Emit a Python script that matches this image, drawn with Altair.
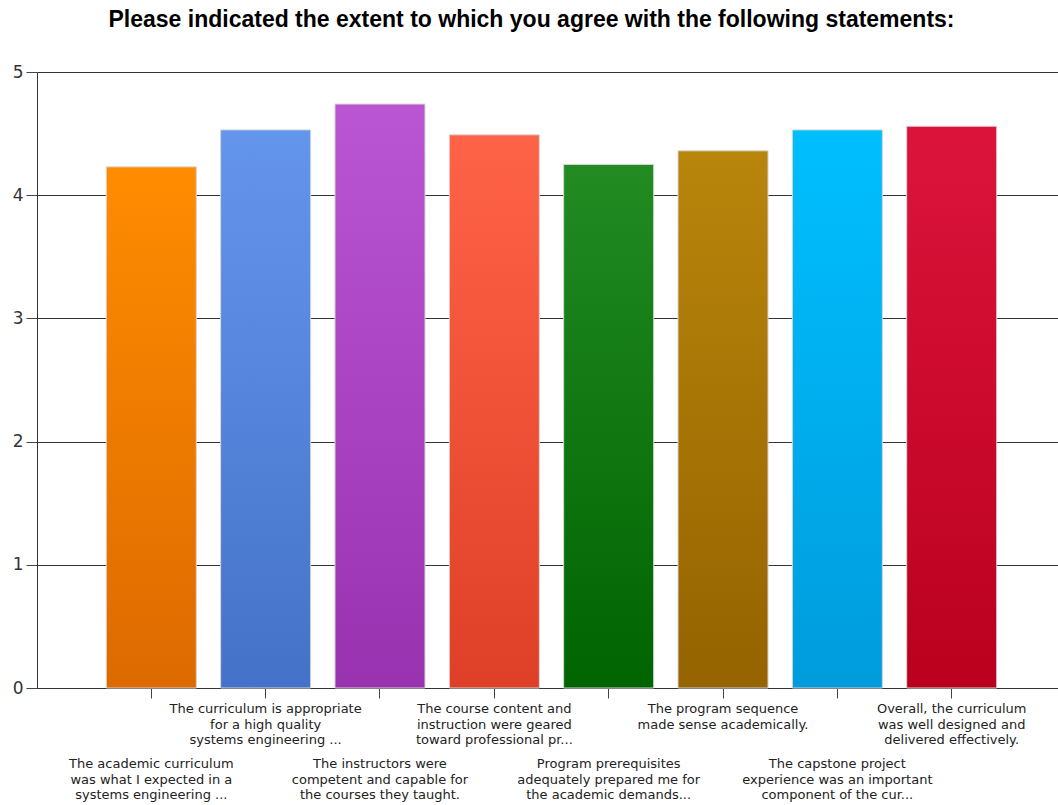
import altair as alt
import pandas as pd

# ---- data ----
keys = ["s1", "s2", "s3", "s4", "s5", "s6", "s7", "s8"]
means = [4.23, 4.53, 4.74, 4.49, 4.25, 4.36, 4.53, 4.56]
label_lines = [
    ["The academic curriculum", "was what I expected in a", "systems engineering ..."],
    ["The curriculum is appropriate", "for a high quality", "systems engineering ..."],
    ["The instructors were", "competent and capable for", "the courses they taught."],
    ["The course content and", "instruction were geared", "toward professional pr..."],
    ["Program prerequisites", "adequately prepared me for", "the academic demands..."],
    ["The program sequence", "made sense academically."],
    ["The capstone project", "experience was an important", "component of the cur..."],
    ["Overall, the curriculum", "was well designed and", "delivered effectively."],
]
label_row = ["lower", "upper", "lower", "upper", "lower", "upper", "lower", "upper"]
top_colors = ["#FF8C00", "#6495ED", "#BA55D3", "#FF6347", "#228B22", "#B8860B", "#00BFFF", "#DC143C"]
bottom_colors = ["#DD6A00", "#4472C8", "#9932AF", "#DD4026", "#006400", "#956300", "#009CDC", "#BA001E"]
y_ticks = [0, 1, 2, 3, 4, 5]
title_text = "Please indicated the extent to which you agree with the following statements:"

df = pd.DataFrame({
    "key": keys,
    "mean": means,
    "label": ["\n".join(l) for l in label_lines],
    "row": label_row,
})

x_scale = alt.Scale(domain=keys, range=[0, 1029], paddingInner=0.2126, paddingOuter=0.606)
y_scale = alt.Scale(domain=[0, 5], nice=False)

x_enc = alt.X("key:N", scale=x_scale, sort=keys,
              axis=alt.Axis(title=None, labels=False, ticks=True, tickSize=10,
                            tickColor="#444444", domainColor="#333333", grid=False))
y_axis = alt.Axis(title=None, values=y_ticks, grid=True, gridColor="#333333", gridWidth=1,
                  domainColor="#333333", tickColor="#444444", tickSize=11,
                  labelFont="DejaVu Sans", labelFontSize=17, labelColor="#333333",
                  labelPadding=3, format="d")

base = alt.Chart(df)

layers = []
for i, k in enumerate(keys):
    grad = alt.Gradient(
        gradient="linear",
        stops=[alt.GradientStop(color=top_colors[i], offset=0),
               alt.GradientStop(color=bottom_colors[i], offset=1)],
        x1=0, x2=0, y1=0, y2=1,
    )
    bar = base.transform_filter(alt.datum.key == k).mark_bar(
        color=grad, stroke="#d6d6d6", strokeWidth=1
    ).encode(
        x=x_enc,
        y=alt.Y("mean:Q", scale=y_scale, axis=y_axis),
    )
    layers.append(bar)

upper = base.transform_filter(alt.datum.row == "upper").mark_text(
    font="DejaVu Sans", fontSize=13, color="#222222", align="center",
    baseline="top", lineBreak="\n", lineHeight=15.7
).encode(x=alt.X("key:N", scale=x_scale, sort=keys), y=alt.value(631), text="label:N")

lower = base.transform_filter(alt.datum.row == "lower").mark_text(
    font="DejaVu Sans", fontSize=13, color="#222222", align="center",
    baseline="top", lineBreak="\n", lineHeight=15.7
).encode(x=alt.X("key:N", scale=x_scale, sort=keys), y=alt.value(686), text="label:N")

chart = alt.layer(*layers, upper, lower).properties(
    width=1021,
    height=616,
    title=alt.TitleParams(text=title_text, font="Liberation Sans", fontSize=23,
                          fontWeight="bold", color="#000000", anchor="middle",
                          dx=-16, offset=31),
    autosize=alt.AutoSizeParams(type="none"),
    padding={"left": 37, "top": 72, "right": 0, "bottom": 117},
).configure_view(stroke=None).configure_axis(domainWidth=1, tickWidth=1)

chart.save("out.html", embed_options={"renderer": "svg", "actions": False})
